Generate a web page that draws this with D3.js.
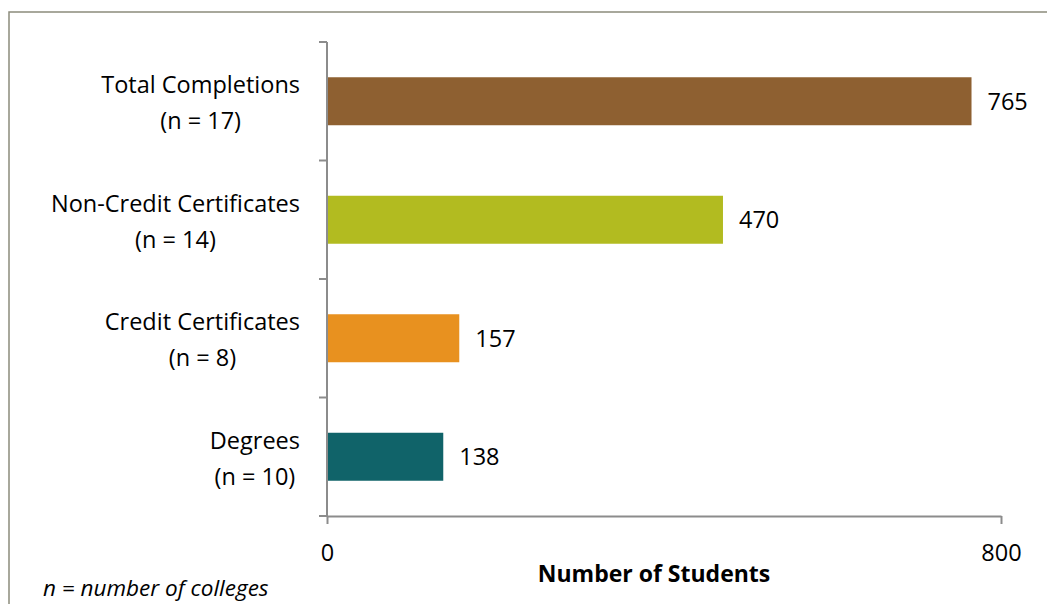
<!DOCTYPE html>
<html>
<head>
<meta charset="utf-8">
<script src="https://cdn.jsdelivr.net/npm/d3@7"></script>
<style>
  body { margin: 0; background: #fff; }
  text { font-family: "Open Sans", Lato, sans-serif; fill: #000; }
</style>
</head>
<body>
<div id="chart-area"></div>
<script>
var categories = ["Total Completions", "Non-Credit Certificates", "Credit Certificates", "Degrees"];
var collegeCounts = ["(n = 17)", "(n = 14)", "(n = 8)", "(n = 10)"];
var students = [765, 470, 157, 138];
var barColors = ["#8e6031", "#b2bb20", "#e8911f", "#106369"];
var xTicks = [0, 800];

var margin = { top: 42, left: 327 };
var width = 674, height = 474;
var fontSize = "23.5px";

var svg = d3.select("#chart-area")
    .append("svg")
        .attr("width", 1047)
        .attr("height", 604);

// outer frame
svg.append("rect")
    .attr("x", 9).attr("y", 12)
    .attr("width", 1060).attr("height", 620)
    .attr("fill", "none")
    .attr("stroke", "#8c8c7c")
    .attr("stroke-width", 1.5);

var g = svg.append("g")
    .attr("transform", "translate(" + margin.left + ", " + margin.top + ")");

var data = categories.map(function(c, i) {
    return { cat: c, n: collegeCounts[i], value: students[i], color: barColors[i] };
});

var x = d3.scaleLinear().domain([0, 800]).range([0, width]);
var y = d3.scaleBand()
    .domain(categories)
    .range([0, height])
    .paddingInner(0.595)
    .paddingOuter(0.2975);

// y axis line and category boundary ticks
var yTickPos = d3.range(categories.length + 1).map(function(i) { return i * height / categories.length; });
g.append("line")
    .attr("x1", 0).attr("x2", 0).attr("y1", 0).attr("y2", height)
    .attr("stroke", "#8c8c8c").attr("stroke-width", 2);
g.selectAll(".ytick").data(yTickPos).enter()
    .append("line")
        .attr("class", "ytick")
        .attr("x1", -8).attr("x2", 0)
        .attr("y1", function(d) { return d; }).attr("y2", function(d) { return d; })
        .attr("stroke", "#8c8c8c").attr("stroke-width", 2);

// x axis
var xAxisCall = d3.axisBottom(x).tickValues(xTicks).tickSize(8).tickSizeOuter(0);
var xAxis = g.append("g")
    .attr("class", "x-axis")
    .attr("transform", "translate(0, " + height + ")")
    .call(xAxisCall);
xAxis.select(".domain").attr("stroke", "#8c8c8c").attr("stroke-width", 2);
xAxis.selectAll(".tick line").attr("stroke", "#8c8c8c").attr("stroke-width", 2);
xAxis.selectAll(".tick text")
    .attr("y", 28)
    .attr("font-size", fontSize)
    .attr("font-family", "'Open Sans', Lato, sans-serif")
    .attr("fill", "#000");

// bars
g.selectAll(".bar").data(data).enter()
    .append("rect")
        .attr("class", "bar")
        .attr("x", 1)
        .attr("y", function(d) { return y(d.cat); })
        .attr("width", function(d) { return x(d.value) - 1; })
        .attr("height", y.bandwidth())
        .attr("fill", function(d) { return d.color; });

// value labels
g.selectAll(".val").data(data).enter()
    .append("text")
        .attr("class", "val")
        .attr("x", function(d) { return x(d.value) + 16; })
        .attr("y", function(d) { return y(d.cat) + y.bandwidth() / 2; })
        .attr("dy", "0.36em")
        .attr("font-size", fontSize)
        .text(function(d) { return d.value; });

// category labels: two centred lines, block right-aligned near the axis
var labels = g.selectAll(".cat").data(data).enter()
    .append("text")
        .attr("class", "cat")
        .attr("text-anchor", "middle")
        .attr("font-size", fontSize);
var line1 = labels.append("tspan")
    .attr("y", function(d) { return y(d.cat) + y.bandwidth() / 2 - 8; })
    .text(function(d) { return d.cat; });
var line2 = labels.append("tspan")
    .attr("y", function(d) { return y(d.cat) + y.bandwidth() / 2 + 28; })
    .text(function(d) { return d.n; });
labels.each(function() {
    var spans = d3.select(this).selectAll("tspan").nodes();
    var w = d3.max(spans, function(s) { return s.getComputedTextLength(); });
    d3.select(this).selectAll("tspan").attr("x", -27 - w / 2);
});

// axis title
g.append("text")
    .attr("x", width / 2 - 10)
    .attr("y", height + 66)
    .attr("text-anchor", "middle")
    .attr("font-size", "23px")
    .attr("font-weight", "bold")
    .text("Number of Students");

// footnote
svg.append("text")
    .attr("x", 43)
    .attr("y", 596)
    .attr("font-size", "22.5px")
    .attr("font-style", "italic")
    .text("n = number of colleges");
</script>
</body>
</html>
